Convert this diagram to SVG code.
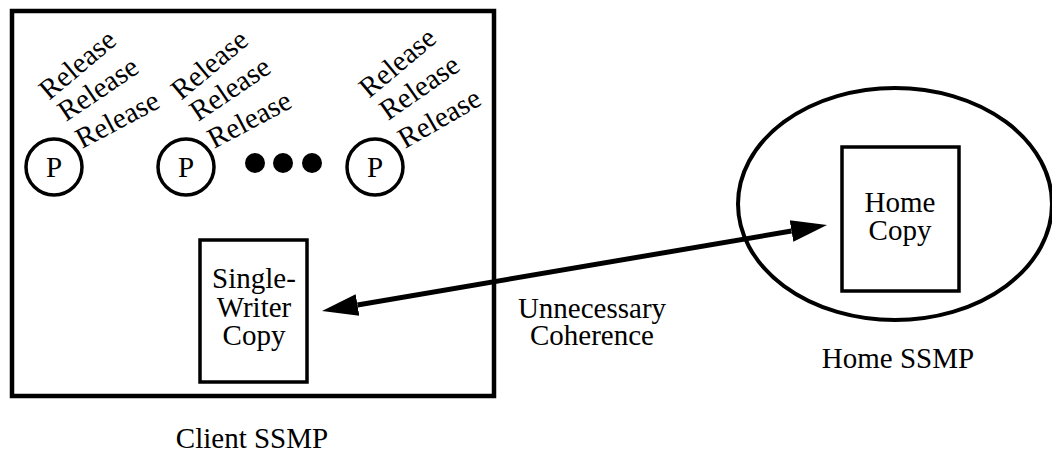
<svg xmlns="http://www.w3.org/2000/svg" width="1052" height="453" viewBox="0 0 1052 453">
<defs>
<style>
text{font-family:"Liberation Serif","Times New Roman",serif;font-size:29px;fill:#000}
.c{text-anchor:middle}
.box{fill:none;stroke:#000;stroke-width:3.5}
.proc{fill:none;stroke:#000;stroke-width:3.5}
.conn{stroke:#000;stroke-width:5;fill:none}
</style>
<marker id="ah" markerUnits="userSpaceOnUse" markerWidth="40" markerHeight="30" viewBox="0 -15 40 30" refX="0" refY="0" orient="auto-start-reverse">
<path d="M0,-11 L36,0 L0,11 z" fill="#000"/>
</marker>
</defs>
<rect width="1052" height="453" fill="#fff"/>
<g id="client-ssmp">
<rect x="12" y="11" width="482" height="385" fill="none" stroke="#000" stroke-width="4.5"/>
<text class="c" x="252" y="448">Client SSMP</text>
</g>
<g id="proc1">
<circle class="proc" cx="54" cy="167" r="28"/>
<text class="c" x="54" y="177">P</text>
<text transform="translate(49,101) rotate(-40)">Release</text>
<text transform="translate(66,122) rotate(-34)">Release</text>
<text transform="translate(82,149) rotate(-28)">Release</text>
</g>
<g id="proc2">
<circle class="proc" cx="186" cy="167" r="28"/>
<text class="c" x="186" y="177">P</text>
<text transform="translate(181,101) rotate(-40)">Release</text>
<text transform="translate(198,122) rotate(-34)">Release</text>
<text transform="translate(214,149) rotate(-28)">Release</text>
</g>
<g id="ellipsis">
<circle cx="255" cy="163" r="10"/>
<circle cx="283" cy="163" r="10"/>
<circle cx="312" cy="163" r="10"/>
</g>
<g id="proc3">
<circle class="proc" cx="375" cy="167" r="28"/>
<text class="c" x="375" y="177">P</text>
<text transform="translate(369,99) rotate(-40)">Release</text>
<text transform="translate(388,121) rotate(-35)">Release</text>
<text transform="translate(405,149) rotate(-30)">Release</text>
</g>
<g id="single-writer-copy">
<rect class="box" x="200" y="240" width="107" height="142"/>
<text class="c" x="254" y="288">Single-</text>
<text class="c" x="254" y="317">Writer</text>
<text class="c" x="254" y="345">Copy</text>
</g>
<g id="home-ssmp">
<ellipse cx="895" cy="204" rx="157" ry="116" fill="none" stroke="#000" stroke-width="4"/>
<text class="c" x="898" y="368">Home SSMP</text>
</g>
<g id="home-copy">
<rect class="box" x="842" y="147" width="117" height="144"/>
<text class="c" x="900" y="212">Home</text>
<text class="c" x="900" y="240">Copy</text>
</g>
<g id="connectors">
<line class="conn" x1="357.5" y1="305" x2="791.5" y2="231" marker-start="url(#ah)" marker-end="url(#ah)"/>
<text class="c" x="592" y="318">Unnecessary</text>
<text class="c" x="592" y="345">Coherence</text>
</g>
</svg>
